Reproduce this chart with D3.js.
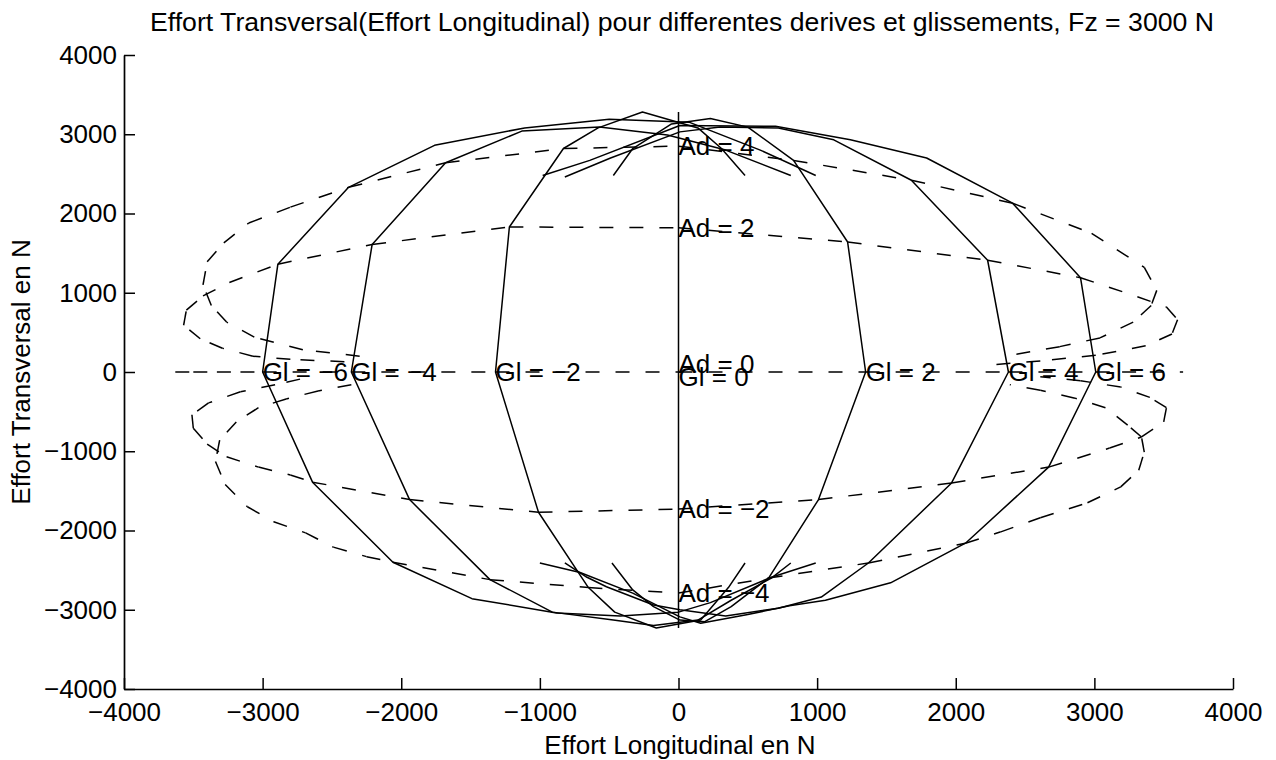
<!DOCTYPE html>
<html><head><meta charset="utf-8">
<script src="https://cdn.jsdelivr.net/npm/d3@7"></script>
<style>
body{margin:0;background:#fff}
text{font-family:"Liberation Sans",Arial,Helvetica,sans-serif;fill:#000}
</style>
</head><body>
<svg id="chart" width="1276" height="760"></svg>
<script>
// ---------- data (N) ----------
const xTicks = [-4000,-3000,-2000,-1000,0,1000,2000,3000,4000];
const yTicks = [-4000,-3000,-2000,-1000,0,1000,2000,3000,4000];

// constant slip (Gl) curves, solid, swept over drift angle
const glValues = [-6,-4,-2,0,2,4,6];
const gl_m6 = [[990,-2410],[670,-2590],[230,-2910],[0,-3030],[-420,-3080],[-880,-3040],[-1490,-2860],[-2060,-2400],[-2640,-1390],[-3000,0],[-2890,1360],[-2380,2330],[-1760,2860],[-1110,3080],[-500,3190],[80,3150],[590,2800],[990,2480]];
const gl_m4 = [[810,-2410],[670,-2600],[380,-2880],[140,-3130],[-180,-3200],[-470,-3130],[-910,-3030],[-1360,-2620],[-1940,-1610],[-2360,0],[-2210,1610],[-1680,2640],[-1130,3040],[-570,3090],[-80,2990],[340,2800],[810,2480]];
const gl_m2 = [[480,-2410],[360,-2720],[160,-3130],[-160,-3230],[-460,-3030],[-650,-2720],[-1010,-1770],[-1320,0],[-1220,1830],[-830,2820],[-580,3080],[-260,3280],[140,3080],[310,2820],[480,2480]];
const gl_0  = [[0,-3230],[0,-2790],[0,-1730],[0,0],[0,1820],[0,2850],[0,3280]];
const gl_2  = [[-480,-2410],[-330,-2750],[-180,-2960],[10,-3130],[190,-3150],[380,-2960],[650,-2600],[1010,-1610],[1350,0],[1220,1640],[830,2670],[500,3090],[230,3200],[-50,3130],[-330,2820],[-470,2480]];
const gl_4  = [[-820,-2410],[-660,-2590],[-520,-2710],[-180,-2940],[10,-3000],[340,-3080],[720,-2980],[1030,-2840],[1370,-2410],[1970,-1400],[2380,0],[2230,1410],[1680,2420],[1120,2930],[720,3080],[300,3090],[10,3030],[-490,2700],[-820,2460]];
const gl_6  = [[-1000,-2410],[-710,-2530],[-330,-2790],[10,-3090],[160,-3170],[500,-3060],[800,-2950],[1060,-2880],[1530,-2660],[2070,-2160],[2670,-1200],[3010,0],[2900,1190],[2410,2130],[1790,2700],[1240,2930],[700,3100],[10,3110],[-640,2670],[-980,2480]];
const glCurves = [gl_m6, gl_m4, gl_m2, gl_0, gl_2, gl_4, gl_6];
const glAtAd0 = [-3000,-2360,-1320,0,1350,2380,3010];

// constant drift (Ad) curves, dashed, swept over slip
const adValues = [4,2,0,-2,-4];
const ad_4  = [[-2300,200],[-2710,280],[-3060,440],[-3260,630],[-3370,840],[-3430,1100],[-3400,1390],[-3280,1630],[-3100,1880],[-2800,2080],[-2380,2330],[-1680,2640],[-830,2820],[0,2850],[830,2670],[1680,2420],[2410,2130],[2980,1750],[3360,1320],[3450,1030],[3410,840],[3280,630],[3040,430],[2750,320],[2390,210]];
const ad_2  = [[-2410,130],[-2800,160],[-3070,200],[-3290,300],[-3450,420],[-3570,590],[-3550,780],[-3430,960],[-3240,1130],[-2890,1360],[-2210,1610],[-1220,1830],[0,1820],[1220,1640],[2230,1410],[2900,1190],[3310,950],[3520,820],[3600,660],[3560,480],[3370,330],[3010,210],[2610,140],[2250,90]];
const ad_0  = [[-3630,0],[-3500,0],[-3330,0],[-3160,0],[-3000,0],[-2360,0],[-1320,0],[0,0],[1350,0],[2380,0],[3010,0],[3200,0],[3400,0],[3640,0]];
const ad_m2 = [[-2730,-90],[-2910,-160],[-3160,-250],[-3390,-390],[-3510,-540],[-3500,-710],[-3400,-910],[-3260,-1070],[-3030,-1200],[-2800,-1300],[-2640,-1390],[-1940,-1610],[-1010,-1770],[0,-1730],[1010,-1610],[1970,-1400],[2670,-1200],[3110,-960],[3340,-820],[3500,-630],[3520,-450],[3400,-320],[3190,-190],[2900,-110],[2610,-60]];
const ad_m4 = [[-2360,-160],[-2600,-240],[-2830,-340],[-3030,-450],[-3190,-630],[-3310,-860],[-3340,-1130],[-3270,-1420],[-3110,-1700],[-2920,-1890],[-2690,-2030],[-2490,-2210],[-2250,-2330],[-2060,-2400],[-1360,-2620],[-650,-2720],[0,-2790],[650,-2600],[1370,-2410],[2070,-2160],[2320,-2020],[2610,-1840],[2950,-1650],[3190,-1450],[3320,-1240],[3360,-1010],[3340,-820],[3240,-670],[3080,-450],[2860,-330],[2610,-230],[2390,-160]];
const adCurves = [ad_4, ad_2, ad_0, ad_m2, ad_m4];
const adAtGl0 = [2850,1820,0,-1730,-2790];

const titleText = "Effort Transversal(Effort Longitudinal) pour differentes derives et glissements, Fz = 3000 N";
const xLabelText = "Effort Longitudinal en N";
const yLabelText = "Effort Transversal en N";

// ---------- layout ----------
const FONT = 26;
const svg = d3.select("#chart");
const x = d3.scaleLinear().domain([-4000,4000]).range([124,1233]);
const y = d3.scaleLinear().domain([-4000,4000]).range([689,55]);
const fmt = d => (d < 0 ? "\u2212" + Math.abs(d) : String(d));
const line = d3.line().x(d => x(d[0])).y(d => y(d[1]));

// solid curves
const gSolid = svg.append("g").attr("fill","none").attr("stroke","#000").attr("stroke-width",1.5).attr("stroke-linejoin","round");
glCurves.forEach(c => gSolid.append("path").attr("d", line(c)));

// dashed curves: dash pattern restarts at each vertex (as in the original plot)
const gDash = svg.append("g").attr("fill","none").attr("stroke","#000").attr("stroke-width",1.5).attr("stroke-dasharray","14,16");
adCurves.forEach(c => {
  for (let i = 0; i < c.length - 1; i++) {
    gDash.append("path").attr("d", line([c[i], c[i+1]]));
  }
});

// axes
const ax = svg.append("g").attr("transform", `translate(0,${y(-4000)})`)
  .call(d3.axisBottom(x).tickValues(xTicks).tickFormat(fmt).tickSizeInner(-11).tickSizeOuter(0).tickPadding(14));
const ay = svg.append("g").attr("transform", `translate(${x(-4000)},0)`)
  .call(d3.axisLeft(y).tickValues(yTicks).tickFormat(fmt).tickSizeInner(-11).tickSizeOuter(0).tickPadding(7));
[ax, ay].forEach(g => {
  g.attr("font-size", FONT).attr("font-family", '"Liberation Sans",Arial,sans-serif');
  g.selectAll("path.domain").attr("stroke","#000").attr("stroke-width",1.7);
  g.selectAll(".tick line").attr("stroke","#000").attr("stroke-width",1.5);
  g.selectAll(".tick text").attr("fill","#000");
});

// in-plot labels
const labelNudge = {"Ad = 0": -8, "Gl = 0": 5};
const gLab = svg.append("g").attr("font-size", FONT);
glValues.forEach((g, i) => {
  const t = "Gl = " + fmt(g);
  gLab.append("text").attr("x", x(glAtAd0[i])).attr("y", y(0) + (labelNudge[t] || 0)).attr("dy","0.36em").text(t);
});
adValues.forEach((a, i) => {
  const t = "Ad = " + fmt(a);
  gLab.append("text").attr("x", x(0)).attr("y", y(adAtGl0[i]) + (labelNudge[t] || 0)).attr("dy","0.36em").text(t);
});

// title and axis labels
svg.append("text").attr("x", 682).attr("y", 31).attr("text-anchor","middle").attr("font-size", FONT)
  .attr("textLength", 1064).attr("lengthAdjust", "spacingAndGlyphs").text(titleText);
svg.append("text").attr("x", 680).attr("y", 754).attr("text-anchor","middle").attr("font-size", FONT).text(xLabelText);
svg.append("text").attr("transform","translate(30,372) rotate(-90)").attr("text-anchor","middle").attr("font-size", FONT).text(yLabelText);
</script>
</body></html>
